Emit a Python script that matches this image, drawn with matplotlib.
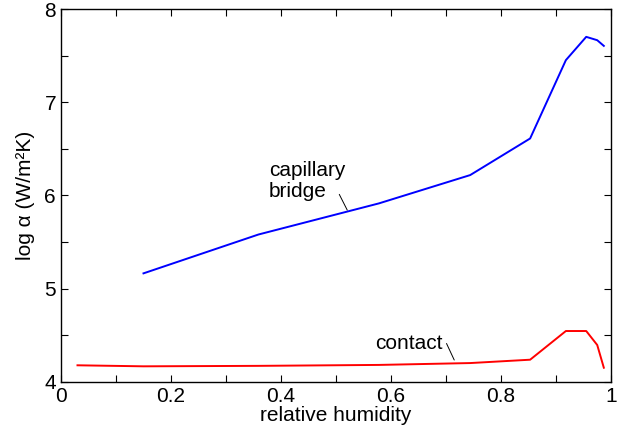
import matplotlib
matplotlib.use("Agg")
import matplotlib.pyplot as plt
from matplotlib.ticker import MultipleLocator

plt.rcParams['font.family'] = ['Liberation Sans', 'DejaVu Sans']

# Data
bridge_rh = [0.150, 0.359, 0.578, 0.744, 0.853, 0.918, 0.955, 0.975, 0.987]
bridge_log_alpha = [5.163, 5.58, 5.914, 6.218, 6.611, 7.452, 7.702, 7.666, 7.605]
contact_rh = [0.030, 0.150, 0.359, 0.578, 0.744, 0.853, 0.918, 0.955, 0.975, 0.987]
contact_log_alpha = [4.176, 4.165, 4.170, 4.180, 4.200, 4.236, 4.544, 4.544, 4.394, 4.150]
x_ticks = [0, 0.2, 0.4, 0.6, 0.8, 1]
x_tick_labels = ['0', '0.2', '0.4', '0.6', '0.8', '1']
y_ticks = [4, 5, 6, 7, 8]
y_tick_labels = ['4', '5', '6', '7', '8']

FS = 15

fig = plt.figure(figsize=(6.3, 4.33), dpi=100)
ax = fig.add_axes([0.0968, 0.1185, 0.873, 0.8605])

ax.plot(bridge_rh, bridge_log_alpha, color='#0000ff', lw=1.4)
ax.plot(contact_rh, contact_log_alpha, color='#ff0000', lw=1.4)

ax.set_xlim(0, 1)
ax.set_ylim(4, 8)
ax.set_xticks(x_ticks)
ax.set_xticklabels(x_tick_labels)
ax.set_yticks(y_ticks)
ax.set_yticklabels(y_tick_labels)
ax.xaxis.set_minor_locator(MultipleLocator(0.1))
ax.yaxis.set_minor_locator(MultipleLocator(0.5))
ax.tick_params(which='both', direction='in', top=True, right=True,
               length=5, width=0.8, labelsize=FS, pad=3.5)
for s in ax.spines.values():
    s.set_linewidth(1.0)

ax.set_xlabel('relative humidity', fontsize=FS, labelpad=0)
ax.set_ylabel('log \u03b1 (W/m\u00b2K)', fontsize=FS, labelpad=7)

# annotations
ax.text(0.378, 5.985, 'capillary\nbridge', fontsize=FS, ha='left',
        va='baseline', linespacing=1.1)
ax.annotate('', xy=(0.5205, 5.842), xytext=(0.506, 6.011),
            arrowprops=dict(arrowstyle='-', color='black', lw=0.7,
                            shrinkA=0, shrinkB=0))
ax.text(0.572, 4.348, 'contact', fontsize=FS, ha='left', va='baseline')
ax.annotate('', xy=(0.715, 4.233), xytext=(0.701, 4.41),
            arrowprops=dict(arrowstyle='-', color='black', lw=0.7,
                            shrinkA=0, shrinkB=0))

fig.savefig('out.png', dpi=100)
